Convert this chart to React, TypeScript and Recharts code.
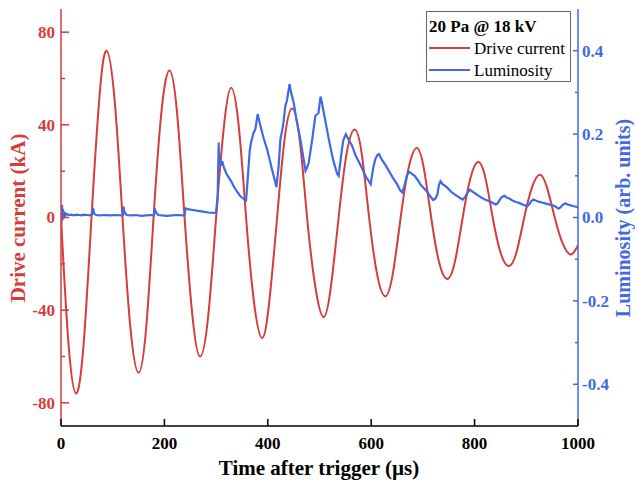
import React from "react";
import { ComposedChart, Line, XAxis, YAxis } from "recharts";

// ---- data ----
const timeTicks = [0, 200, 400, 600, 800, 1000];
const currentTicks = [-80, -60, -40, -20, 0, 20, 40, 60, 80];
const lumTicks = [-0.4, -0.3, -0.2, -0.1, 0, 0.1, 0.2, 0.3, 0.4];

// Drive current (kA) vs time (µs)
const currentT = [
  0, 14, 29, 44, 59, 74, 88, 104, 119, 134, 150, 165, 179, 194, 210, 225, 239,
  254, 269, 285, 300, 315, 329, 344, 358, 373, 389, 403, 418, 432, 447, 462, 476,
  492, 508, 522, 537, 552, 568, 582, 596, 611, 627, 642, 657, 672, 688, 702, 716,
  731, 747, 762, 777, 792, 807, 821, 835, 850, 866, 881, 896, 911, 926, 940, 955,
  970, 986, 1000,
];
const currentKA = [
  0, -53, -76, -54, 0, 51, 72, 50, 0, -47, -67, -47, 0, 45, 63.5, 44, 0,
  -42, -60, -42, 0, 39, 56, 39, 0, -36, -52, -36, 0, 33, 47, 33, 0,
  -30, -43, -30, 0, 27, 38, 27, 0, -24, -34, -24, 0, 21, 30, 21, 0,
  -19, -26.5, -19, 0, 17, 24, 17, 0, -15, -21, -15, 0, 13, 18.5, 13, 0,
  -11, -16, -12,
];

// Luminosity (arb. units) vs time (µs)
const lumT = [
  0, 1, 2, 3, 4, 5, 6, 8, 10, 15, 20, 25, 30, 35, 40, 45, 50, 55, 60, 62, 64, 68,
  75, 85, 95, 105, 115, 120, 121, 123, 127, 135, 145, 155, 165, 175, 180, 181, 184,
  188, 195, 205, 215, 225, 235, 239, 241, 245, 255, 265, 275, 285, 295, 300, 303,
  305, 306, 308, 310, 312, 315, 320, 325, 330, 334, 340, 347, 352, 358, 361, 365,
  367.6, 372.8, 375.7, 380.4, 385.7, 392, 398.6, 408, 416.7, 421, 424.4, 429.5, 434,
  437, 442, 445, 450, 456, 463, 468, 473, 476, 479, 486, 492, 498, 502, 504, 510,
  518, 526, 534, 537, 542, 546, 551, 553, 557, 563, 570, 575, 580, 585, 590, 595,
  599, 604, 608, 612, 615, 620, 628, 635, 642, 650, 656, 660, 664, 669, 673, 678,
  684, 690, 696, 702, 708, 712, 716, 720, 724, 728, 731, 734, 738, 744, 750, 756,
  762, 768, 774, 777, 782, 787, 791, 796, 802, 808, 814, 820, 826, 832, 838, 841,
  845, 850, 854, 858, 862, 868, 874, 880, 886, 892, 898, 902, 906, 910, 914, 918,
  924, 930, 936, 942, 948, 954, 958, 962, 966, 970, 975, 980, 986, 992, 1000,
];
const lumVal = [
  0.02, -0.012, 0.03, -0.006, 0.02, 0.0, 0.014, 0.004, 0.009, 0.006, 0.007, 0.005,
  0.007, 0.006, 0.005, 0.007, 0.006, 0.005, 0.007, 0.023, 0.01, 0.006, 0.005,
  0.006, 0.005, 0.006, 0.005, 0.006, 0.026, 0.012, 0.006, 0.005, 0.006, 0.004,
  0.005, 0.006, 0.005, 0.022, 0.012, 0.006, 0.005, 0.004, 0.005, 0.006, 0.005,
  0.006, 0.022, 0.02, 0.018, 0.016, 0.014, 0.012, 0.011, 0.012, 0.05, 0.18, 0.125,
  0.14, 0.125, 0.135, 0.12, 0.105, 0.095, 0.085, 0.075, 0.063, 0.051, 0.046, 0.041,
  0.09, 0.16, 0.18, 0.205, 0.21, 0.248, 0.22, 0.19, 0.164, 0.116, 0.073, 0.124,
  0.188, 0.22, 0.268, 0.28, 0.32, 0.3, 0.276, 0.23, 0.188, 0.15, 0.112, 0.12, 0.13,
  0.188, 0.244, 0.25, 0.29, 0.28, 0.24, 0.188, 0.14, 0.105, 0.1, 0.15, 0.185, 0.2,
  0.195, 0.185, 0.172, 0.148, 0.136, 0.124, 0.11, 0.097, 0.088, 0.08, 0.12, 0.14,
  0.15, 0.152, 0.14, 0.125, 0.11, 0.095, 0.08, 0.065, 0.06, 0.075, 0.1, 0.11,
  0.105, 0.1, 0.09, 0.078, 0.07, 0.062, 0.055, 0.048, 0.042, 0.045, 0.055, 0.078,
  0.087, 0.08, 0.075, 0.068, 0.06, 0.055, 0.05, 0.045, 0.043, 0.05, 0.06, 0.067,
  0.062, 0.057, 0.052, 0.047, 0.043, 0.04, 0.037, 0.033, 0.031, 0.035, 0.045,
  0.05, 0.052, 0.048, 0.045, 0.04, 0.037, 0.035, 0.032, 0.029, 0.027, 0.032, 0.04,
  0.043, 0.041, 0.038, 0.036, 0.034, 0.032, 0.03, 0.028, 0.025, 0.021, 0.024,
  0.03, 0.034, 0.031, 0.029, 0.027, 0.025,
];

const currentData = currentT.map((t, k) => ({ t, i: currentKA[k] }));
const lumData = lumT.map((t, k) => ({ t, l: lumVal[k] }));

const RED = "#d63c3c";
const BLUE = "#4169e1";
const FONT = "'Liberation Serif', 'Times New Roman', serif";

const BottomTick = (props: any) => {
  const { x, y, payload } = props;
  return (
    <g>
      <line x1={x} y1={y} x2={x} y2={y - 7} stroke="#000" strokeWidth={1.5} />
      <text x={x} y={y + 23} textAnchor="middle" fontFamily={FONT} fontWeight="bold" fontSize={17} fill="#000">
        {payload.value}
      </text>
    </g>
  );
};

const TopTick = (props: any) => {
  const { x, y } = props;
  return <line x1={x} y1={y} x2={x} y2={y + 8} stroke="#000" strokeWidth={1.5} />;
};

const LeftTick = (props: any) => {
  const { x, y, payload } = props;
  const v = payload.value as number;
  const major = Math.round(v) % 40 === 0;
  return (
    <g>
      <line x1={x} y1={y} x2={x + (major ? 8 : 4)} y2={y} stroke={RED} strokeWidth={1.5} />
      {major && (
        <text x={x - 6} y={y} dy="0.35em" textAnchor="end" fontFamily={FONT} fontWeight="bold" fontSize={17} fill={RED}>
          {String(v)}
        </text>
      )}
    </g>
  );
};

const RightTick = (props: any) => {
  const { x, y, payload } = props;
  const v = payload.value as number;
  const major = Math.round(v * 10) % 2 === 0;
  return (
    <g>
      <line x1={x} y1={y} x2={x - (major ? 5 : 3)} y2={y} stroke={BLUE} strokeWidth={1.5} />
      {major && (
        <text x={x + 4} y={y} dy="0.35em" textAnchor="start" fontFamily={FONT} fontWeight="bold" fontSize={17} fill={BLUE}>
          {v.toFixed(1)}
        </text>
      )}
    </g>
  );
};

export default function App() {
  return (
    <div style={{ position: "absolute", left: 0, top: 0, width: 635, height: 484, background: "#fff" }}>
      <ComposedChart width={635} height={484} margin={{ top: 9, right: 0, bottom: 0, left: 0 }}>
        <XAxis
          xAxisId="b"
          dataKey="t"
          type="number"
          domain={[0, 1000]}
          ticks={timeTicks}
          interval={0}
          height={58}
          tickSize={0}
          tickMargin={0}
          tickLine={false}
          axisLine={{ stroke: "#000", strokeWidth: 1.5 }}
          tick={<BottomTick />}
          allowDataOverflow
        />
        <XAxis
          xAxisId="top"
          orientation="top"
          dataKey="t"
          type="number"
          domain={[0, 1000]}
          ticks={timeTicks}
          interval={0}
          height={0}
          tickSize={0}
          tickMargin={0}
          tickLine={false}
          axisLine={{ stroke: "#000", strokeWidth: 1.5 }}
          tick={<TopTick />}
          allowDataOverflow
        />
        <YAxis
          yAxisId="L"
          type="number"
          domain={[-90, 90]}
          ticks={currentTicks}
          interval={0}
          width={61}
          tickSize={0}
          tickMargin={0}
          tickLine={false}
          axisLine={{ stroke: RED, strokeWidth: 1.5 }}
          tick={<LeftTick />}
          allowDataOverflow
        />
        <YAxis
          yAxisId="R"
          orientation="right"
          type="number"
          domain={[-0.5, 0.5]}
          ticks={lumTicks}
          interval={0}
          width={57}
          tickSize={0}
          tickMargin={0}
          tickLine={false}
          axisLine={{ stroke: BLUE, strokeWidth: 1.5 }}
          tick={<RightTick />}
          allowDataOverflow
        />
        <Line
          xAxisId="b"
          yAxisId="L"
          data={currentData}
          dataKey="i"
          type="natural"
          stroke={RED}
          strokeWidth={2}
          dot={false}
          isAnimationActive={false}
        />
        <Line
          xAxisId="b"
          yAxisId="R"
          data={lumData}
          dataKey="l"
          type="linear"
          stroke={BLUE}
          strokeWidth={2.2}
          dot={false}
          isAnimationActive={false}
        />
      </ComposedChart>
      <svg width={635} height={484} style={{ position: "absolute", left: 0, top: 0, pointerEvents: "none" }}>
        <text
          transform="translate(18,218) rotate(-90)"
          textAnchor="middle"
          dy="0.35em"
          fontFamily={FONT}
          fontWeight="bold"
          fontSize={21}
          fill={RED}
        >
          Drive current (kA)
        </text>
        <text
          transform="translate(623,218) rotate(-90)"
          textAnchor="middle"
          dy="0.35em"
          fontFamily={FONT}
          fontWeight="bold"
          fontSize={20}
          fill={BLUE}
        >
          Luminosity (arb. units)
        </text>
        <text x={319} y={475} textAnchor="middle" fontFamily={FONT} fontWeight="bold" fontSize={21} fill="#000">
          Time after trigger (µs)
        </text>
        <rect x={426.5} y={11.5} width={144} height={70} fill="#fff" stroke="#666" strokeWidth={1} />
        <text x={429} y={32} fontFamily={FONT} fontWeight="bold" fontSize={17} fill="#000">
          20 Pa @ 18 kV
        </text>
        <line x1={429} y1={48} x2={470} y2={48} stroke={RED} strokeWidth={2} />
        <text x={474} y={54} fontFamily={FONT} fontSize={17} fill="#000">
          Drive current
        </text>
        <line x1={429} y1={70} x2={470} y2={70} stroke={BLUE} strokeWidth={2} />
        <text x={474} y={76} fontFamily={FONT} fontSize={17} fill="#000">
          Luminosity
        </text>
      </svg>
    </div>
  );
}
